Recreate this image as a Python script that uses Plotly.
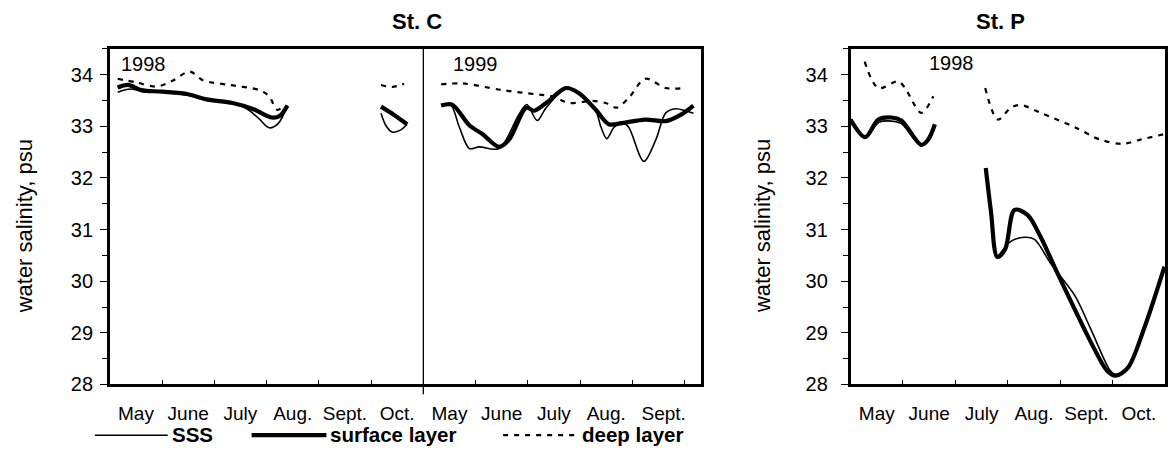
import plotly.graph_objects as go

W, H = 1168, 455
FONT = "Liberation Sans, Arial, Helvetica, sans-serif"

# ---------------- tick labels ----------------
c_month_pos = [0.5, 1.5, 2.5, 3.5, 4.5, 5.5, 6.5, 7.5, 8.5, 9.5, 10.6]
c_month_lab = ["May", "June", "July", "Aug.", "Sept.", "Oct.",
               "May", "June", "July", "Aug.", "Sept."]
p_month_pos = [0.5, 1.5, 2.5, 3.5, 4.5, 5.5]
p_month_lab = ["May", "June", "July", "Aug.", "Sept.", "Oct."]
y_ticks = [28, 29, 30, 31, 32, 33, 34]

# x = months since 1 May 1998 (St. C: 1999 part starts at 6)
# ---------------- St. C, 1998 (May-Aug) ----------------
c98a_sss_x = [0.15, 0.4, 0.7, 1.0, 1.5, 1.85, 2.35, 2.65, 2.85, 3.05, 3.22, 3.4]
c98a_sss_y = [33.66, 33.72, 33.66, 33.66, 33.60, 33.51, 33.45, 33.32, 33.15, 32.97, 33.05, 33.40]
c98a_sur_x = [0.15, 0.35, 0.6, 1.0, 1.5, 1.85, 2.35, 2.75, 3.1, 3.25, 3.4]
c98a_sur_y = [33.75, 33.80, 33.70, 33.67, 33.62, 33.52, 33.45, 33.33, 33.17, 33.20, 33.40]
c98a_dep_x = [0.15, 0.5, 0.9, 1.2, 1.53, 1.78, 2.29, 2.86, 3.05, 3.2, 3.33]
c98a_dep_y = [33.92, 33.85, 33.77, 33.88, 34.06, 33.89, 33.80, 33.70, 33.58, 33.32, 33.38]
# ---------------- St. C, 1998 (Oct) ----------------
c98b_sss_x = [5.19, 5.28, 5.4, 5.55, 5.69]
c98b_sss_y = [33.25, 33.02, 32.89, 32.92, 33.04]
c98b_sur_x = [5.19, 5.44, 5.69]
c98b_sur_y = [33.38, 33.22, 33.04]
c98b_dep_x = [5.19, 5.4, 5.63]
c98b_dep_y = [33.80, 33.76, 33.82]
# ---------------- St. C, 1999 ----------------
c99_sss_x = [6.34, 6.52, 6.69, 6.88, 7.07, 7.45, 7.83, 7.98, 8.18, 8.35, 8.73, 8.98,
             9.3, 9.4, 9.51, 9.65, 9.8, 9.93, 10.22, 10.45, 10.64, 10.83, 11.02, 11.17]
c99_sss_y = [33.40, 33.42, 32.98, 32.57, 32.60, 32.57, 33.23, 33.42, 33.11, 33.36, 33.72, 33.64,
             33.30, 32.98, 32.76, 32.98, 33.08, 32.98, 32.32, 32.74, 33.26, 33.34, 33.30, 33.25]
c99_sur_x = [6.34, 6.55, 6.88, 7.13, 7.45, 7.64, 7.97, 8.12, 8.35, 8.73, 8.98,
             9.3, 9.55, 9.8, 10.25, 10.64, 10.94, 11.17]
c99_sur_y = [33.40, 33.42, 33.02, 32.85, 32.60, 32.74, 33.36, 33.30, 33.45, 33.74, 33.64,
             33.32, 33.04, 33.06, 33.13, 33.10, 33.23, 33.40]
c99_dep_x = [6.34, 6.74, 7.51, 8.15, 8.47, 8.79, 9.23, 9.49, 9.7, 9.93, 10.25, 10.64, 11.02]
c99_dep_y = [33.81, 33.83, 33.70, 33.62, 33.58, 33.45, 33.49, 33.45, 33.36, 33.55, 33.92, 33.74, 33.74]
# ---------------- St. P, 1998 ----------------
pa_sss_x = [0.0, 0.28, 0.55, 0.78, 0.97, 1.35, 1.52]
pa_sss_y = [33.10, 32.80, 33.08, 33.10, 33.05, 32.62, 32.85]
pa_sur_x = [0.0, 0.28, 0.53, 0.78, 0.97, 1.35, 1.48, 1.61]
pa_sur_y = [33.13, 32.79, 33.13, 33.17, 33.11, 32.64, 32.74, 33.04]
pa_dep_x = [0.27, 0.53, 0.91, 1.04, 1.35, 1.58]
pa_dep_y = [34.25, 33.74, 33.87, 33.74, 33.26, 33.58]
pb_sss_x = [2.81, 3.06, 3.32, 3.51, 3.82, 4.28, 4.58, 4.96, 5.06, 5.29, 5.6, 5.99]
pb_sss_y = [30.47, 30.77, 30.85, 30.81, 30.34, 29.72, 29.08, 28.26, 28.19, 28.32, 29.08, 30.28]
pb_sur_x = [2.58, 2.68, 2.8, 2.95, 3.13, 3.38, 3.63, 3.95, 4.28, 4.58, 4.9, 5.06, 5.29, 5.6, 5.99]
pb_sur_y = [32.19, 31.34, 30.47, 30.62, 31.38, 31.28, 30.85, 30.15, 29.45, 28.83, 28.26, 28.17, 28.32, 29.08, 30.28]
pb_dep_x = [2.57, 2.81, 3.06, 3.25, 3.63, 4.28, 4.77, 5.19, 5.53, 5.99]
pb_dep_y = [33.74, 33.13, 33.36, 33.41, 33.26, 32.98, 32.74, 32.66, 32.74, 32.85]

STYLE = {
    "sss": dict(color="black", width=1.6),
    "sur": dict(color="black", width=4.2),
    "dep": dict(color="black", width=2.2, dash="5px,6px"),
}

fig = go.Figure()


def add(x, y, kind, xa, ya):
    fig.add_trace(go.Scatter(
        x=x, y=y, mode="lines", xaxis=xa, yaxis=ya, showlegend=False,
        line=dict(shape="spline", smoothing=0.9, **STYLE[kind]),
        hoverinfo="skip"))


for xs, ys, k in [(c98a_dep_x, c98a_dep_y, "dep"), (c98a_sss_x, c98a_sss_y, "sss"),
                  (c98a_sur_x, c98a_sur_y, "sur"),
                  (c98b_dep_x, c98b_dep_y, "dep"), (c98b_sss_x, c98b_sss_y, "sss"),
                  (c98b_sur_x, c98b_sur_y, "sur"),
                  (c99_dep_x, c99_dep_y, "dep"), (c99_sss_x, c99_sss_y, "sss"),
                  (c99_sur_x, c99_sur_y, "sur")]:
    add(xs, ys, k, "x", "y")

for xs, ys, k in [(pa_dep_x, pa_dep_y, "dep"), (pa_sss_x, pa_sss_y, "sss"),
                  (pa_sur_x, pa_sur_y, "sur"),
                  (pb_dep_x, pb_dep_y, "dep"), (pb_sss_x, pb_sss_y, "sss"),
                  (pb_sur_x, pb_sur_y, "sur")]:
    add(xs, ys, k, "x2", "y2")


def px(v):
    return v / W


def py(v):
    return 1 - v / H


YDOM = [py(394), py(50)]

common_x = dict(showline=True, linecolor="black", linewidth=2.5, mirror=True,
                showgrid=False, zeroline=False, ticks="", tickmode="array",
                tickfont=dict(family=FONT, size=19, color="black"),
                ticklabelstandoff=10,
                minor=dict(tickmode="linear", tick0=0, dtick=1, ticks="inside",
                           ticklen=5, tickwidth=1.2, tickcolor="black", showgrid=False))
common_y = dict(showline=True, linecolor="black", linewidth=2.5, mirror=True,
                showgrid=False, zeroline=False, range=[28, 34.5], domain=YDOM,
                tickmode="array", tickvals=y_ticks, ticktext=[str(t) for t in y_ticks],
                ticks="outside", ticklen=7, tickwidth=1.2, tickcolor="black",
                tickfont=dict(family=FONT, size=20, color="black"),
                minor=dict(tickmode="linear", tick0=28, dtick=0.5, ticks="outside",
                           ticklen=5, tickwidth=1.2, tickcolor="black", showgrid=False))

fig.update_layout(
    width=W, height=H, margin=dict(l=0, r=0, t=0, b=0),
    paper_bgcolor="white", plot_bgcolor="white",
    font=dict(family=FONT, color="black"),
    xaxis=dict(domain=[px(110), px(702)], range=[0, 11.31],
               tickvals=c_month_pos, ticktext=c_month_lab, anchor="y", **common_x),
    yaxis=dict(anchor="x", ticklabelstandoff=3, **common_y),
    xaxis2=dict(domain=[px(852), px(1167)], range=[0, 6],
                tickvals=p_month_pos, ticktext=p_month_lab, anchor="y2", **common_x),
    yaxis2=dict(anchor="x2", ticklabelstandoff=9, **common_y),
)

# divider between 1998 and 1999 at St. C
fig.add_shape(type="line", xref="x", yref="paper", x0=6, x1=6,
              y0=py(404), y1=py(50), line=dict(color="black", width=1.3))

ann = []
ann.append(dict(text="<b>St. C</b>", x=px(418), y=py(22), font=dict(size=22)))
ann.append(dict(text="<b>St. P</b>", x=px(1002), y=py(22), font=dict(size=22)))
ann.append(dict(text="1998", x=px(119), y=py(66), xanchor="left", font=dict(size=20)))
ann.append(dict(text="1999", x=px(452), y=py(66), xanchor="left", font=dict(size=20)))
ann.append(dict(text="1998", x=px(929), y=py(65), xanchor="left", font=dict(size=20)))
ann.append(dict(text="water salinity, psu", x=px(24), y=py(232), textangle=-90, font=dict(size=22)))
ann.append(dict(text="water salinity, psu", x=px(764), y=py(232), textangle=-90, font=dict(size=22)))

# legend (drawn below the St. C panel)
leg_y = 446
legend_items = [("SSS", 95, 168, "sss"), ("surface layer", 252, 327, "sur"),
                ("deep layer", 504, 579, "dep")]
for label, x0, x1, k in legend_items:
    st = STYLE[k]
    ld = dict(color="black", width=st["width"])
    if "dash" in st:
        ld["dash"] = st["dash"]
    fig.add_shape(type="line", xref="paper", yref="paper", x0=px(x0), x1=px(x1),
                  y0=py(leg_y), y1=py(leg_y), line=ld)
    ann.append(dict(text="<b>%s</b>" % label, x=px(x1 + 2), y=py(leg_y - 1),
                    xanchor="left", font=dict(size=20.5)))

for a in ann:
    a.setdefault("xanchor", "center")
    a.update(xref="paper", yref="paper", showarrow=False, yanchor="middle")
    a["font"] = dict(family=FONT, color="black", **a["font"])
    fig.add_annotation(**a)

fig.write_html("out.html")
